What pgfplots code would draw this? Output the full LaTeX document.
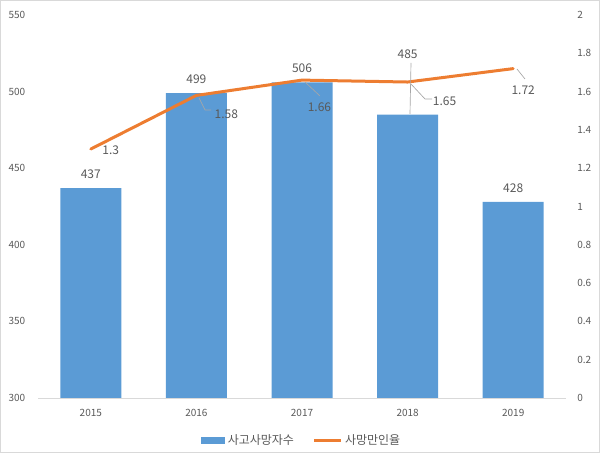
\documentclass[border=0pt]{standalone}
\usepackage{pgfplots}
\pgfplotsset{compat=1.18}
\usepackage{fontspec}
\setmainfont{Noto Sans CJK KR}
\definecolor{barblue}{HTML}{5B9BD5}
\definecolor{lineorange}{HTML}{ED7D31}
\definecolor{txtgray}{HTML}{595959}
\definecolor{axgray}{HTML}{D9D9D9}
\definecolor{leadgray}{HTML}{A6A6A6}

% year index, value, label offsets (pt)
\pgfplotstableread{
x y lab dx dy
0 437 437 0 10.5
1 499 499 0 10.5
2 506 506 0 10.5
3 485 485 0 45
4 428 428 0 10.5
}\deaths
\pgfplotstableread{
x y lab dx dy
0 1.30 1.3 15 -0.75
1 1.58 1.58 22.5 -14.25
2 1.66 1.66 13.1 -20.25
3 1.65 1.65 27.75 -14.25
4 1.72 1.72 7.5 -16.5
}\rate

\begin{document}
\begin{tikzpicture}
\path[use as bounding box] (0,0) rectangle (450pt,339.75pt);
\draw[axgray, line width=0.75pt] (0.375pt,0.375pt) rectangle (449.625pt,339.375pt);

\pgfplotsset{
  base/.style={
    at={(28.5pt,41.25pt)}, anchor=south west,
    scale only axis, width=396pt, height=287.25pt,
    xmin=-0.5, xmax=4.5,
    major tick length=0pt,
    tick label style={font=\fontsize{7.5}{9}\selectfont, text=txtgray},
    /pgf/number format/assume math mode=true,
  },
}

\begin{axis}[base,
  ymin=300, ymax=550,
  ytick={300,350,400,450,500,550},
  xtick={0,1,2,3,4}, xticklabels={2015,2016,2017,2018,2019},
  axis x line*=bottom, axis y line*=left,
  x axis line style={draw=axgray, -},
  y axis line style={draw=none},
  yticklabel style={xshift=-6pt},
  xticklabel style={yshift=-5pt},
  legend columns=2,
  legend style={at={(0.5,-0.11)}, anchor=center, draw=none, fill=none,
    font=\fontsize{9}{11}\selectfont, text=txtgray,
    /tikz/every even column/.append style={column sep=12pt}},
]
\addplot[ybar, bar width=45.75pt, fill=barblue, draw=none,
  point meta=explicit symbolic,
  visualization depends on={\thisrow{dy}\as\ldy},
  nodes near coords,
  every node near coord/.append style={anchor=center, yshift=\ldy pt,
    font=\fontsize{9}{11}\selectfont, text=txtgray},
  legend image code/.code={\fill[barblue] (0pt,-2.6pt) rectangle (18pt,2.6pt);},
] table[x=x, y=y, meta=lab] {\deaths};
\addlegendentry{사고사망자수}
\addlegendimage{legend image code/.code={\draw[lineorange, line width=2.25pt] (0pt,0pt) -- (20pt,0pt);}}
\addlegendentry{사망만인율}
\end{axis}

\begin{axis}[base,
  ymin=0, ymax=2,
  ytick={0,0.2,0.4,0.6,0.8,1,1.2,1.4,1.6,1.8,2},
  axis x line=none, axis y line*=right,
  y axis line style={draw=none},
  yticklabel style={anchor=west, xshift=5pt},
  /pgf/number format/.cd, fixed, precision=1,
]
\addplot[lineorange, line width=2.25pt, line join=round, line cap=round, mark=none,
  point meta=explicit symbolic,
  visualization depends on={\thisrow{dx}\as\ldx},
  visualization depends on={\thisrow{dy}\as\ldy},
  nodes near coords,
  every node near coord/.append style={anchor=center, xshift=\ldx pt, yshift=\ldy pt,
    font=\fontsize{9}{11}\selectfont, text=txtgray},
] table[x=x, y=y, meta=lab] {\rate};
\end{axis}

% leader lines, in pixel coordinates of the reference
\begin{scope}[yshift=339.75pt, x=0.75pt, y=-0.75pt, leadgray, line width=0.5pt]
\draw (199,98) -- (205,110) -- (211,110);
\draw (305,82) -- (320,96);
\draw (411,84) -- (425,99) -- (432,99);
\draw (517,69) -- (525,79);
\draw (411,63) -- (410,114);
\end{scope}
\end{tikzpicture}
\end{document}
